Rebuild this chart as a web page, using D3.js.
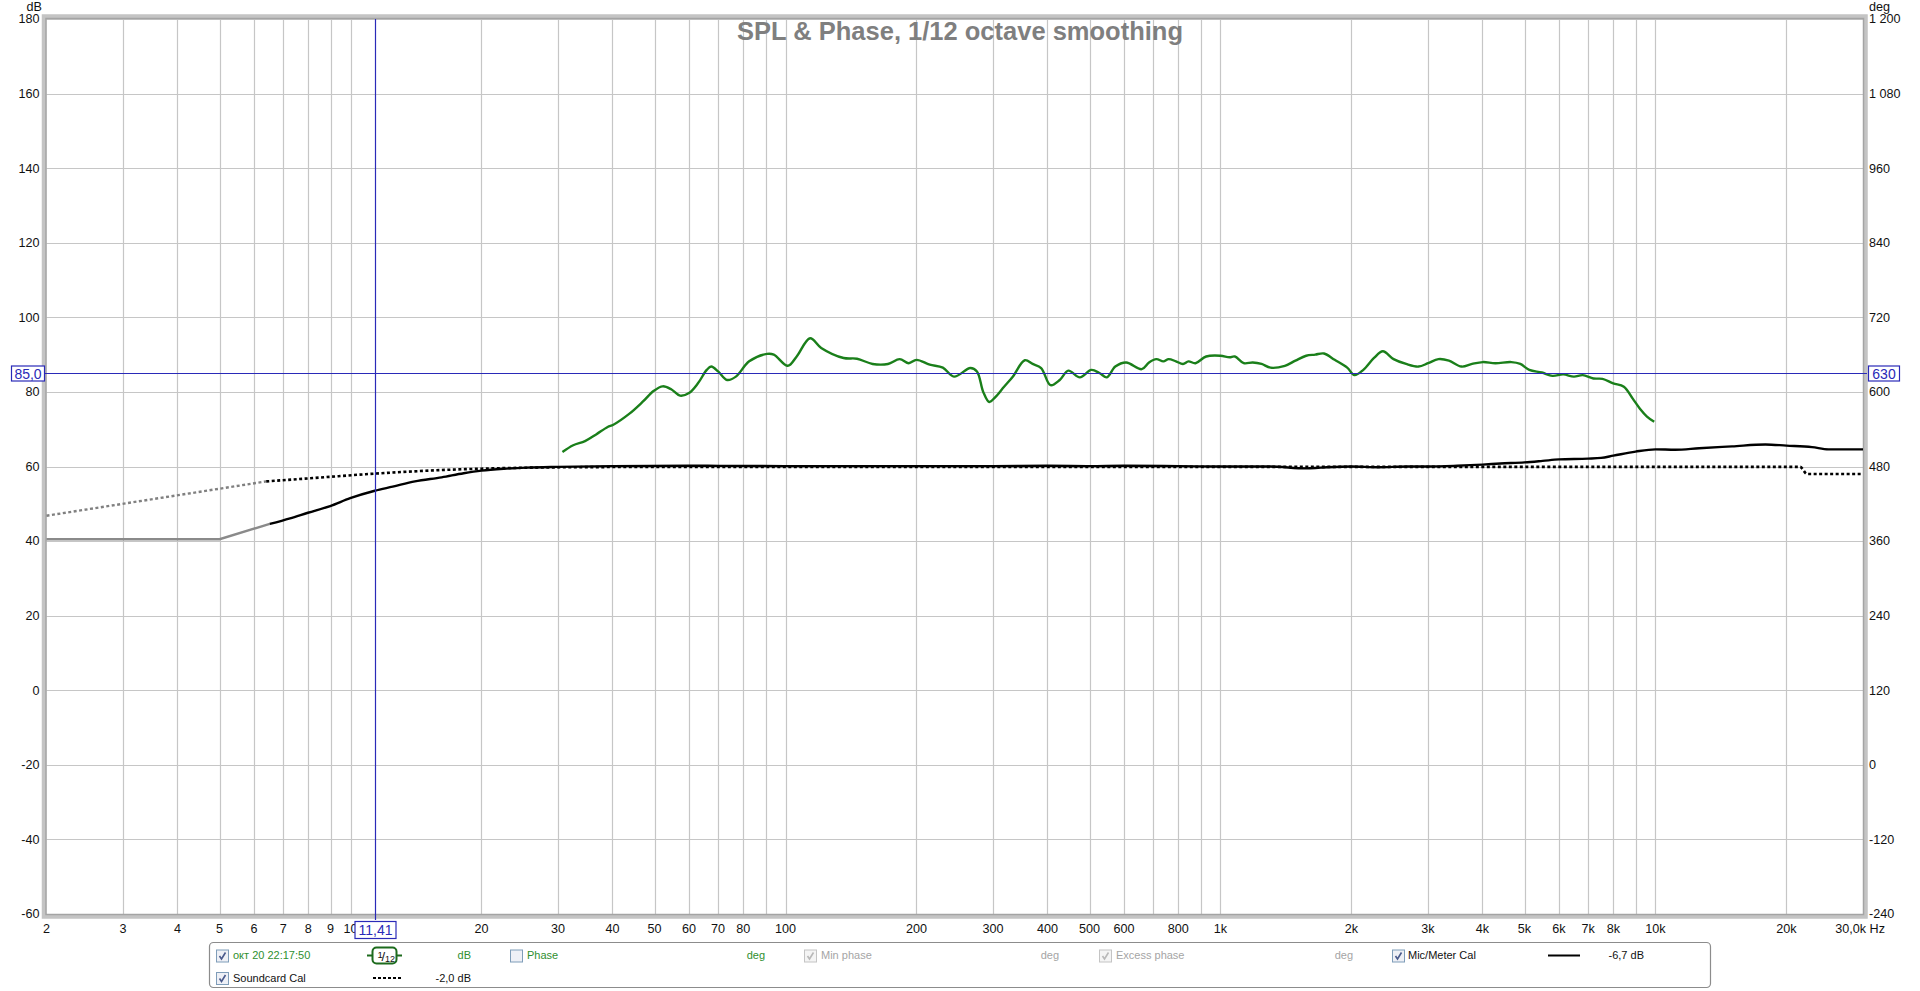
<!DOCTYPE html>
<html><head><meta charset="utf-8">
<script src="https://cdn.jsdelivr.net/npm/d3@7"></script>
<style>
body{margin:0;background:#fff;}
svg{display:block;}
text{font-family:"Liberation Sans",Arial,sans-serif;}
</style>
</head><body>
<svg id="c" width="1920" height="991"></svg>
<script>
// ---------- DATA ----------
const splFreq = [30.7,32.5,34.6,36.7,39.0,40.2,43.7,46.9,49.8,52.2,54.6,57.2,60,62.9,65.9,67.5,70,73.4,76.9,82.5,90.7,94.0,101.2,106.1,113.9,120.8,136,146,158.6,172,183,192,200,214.6,230,244,266,275.5,284.8,294,303.6,318,333,355,370,387,406.8,427,447,475,504.6,528,548,573,607,659,685,712,739,760,790,820,844,876,927,1000,1049,1079,1131,1186,1243,1303,1406,1487,1574,1651,1730,1830,1956,2032,2130,2254,2362,2500,2672,2853,3000,3170,3351,3582,3788,4009,4284,4663,4890,5128,5478,5798,6137,6494,6805,7202,7554,7995,8460,8866,9210,9560,9933];
const splDb   = [63.9,65.7,66.8,68.6,70.6,71.2,74.1,77.3,80.3,81.5,80.7,79.0,79.7,82.3,85.9,86.8,85.5,83.2,84.1,88.2,90.2,90.0,87.0,89.5,94.4,91.8,89.1,88.9,87.5,87.5,88.8,87.7,88.6,87.3,86.5,84.1,86.4,85.5,80.0,77.3,78.6,81.4,84.1,88.5,87.5,86.4,81.8,83.2,85.7,83.9,85.9,85.0,83.9,86.8,87.9,86.1,87.9,88.8,88.2,88.8,88.2,87.5,88.2,87.7,89.5,89.7,89.3,89.5,87.7,87.9,87.5,86.5,87.0,88.4,89.7,90.0,90.3,88.6,86.5,84.5,85.9,89.1,90.9,88.8,87.5,86.8,87.7,88.8,88.4,86.8,87.5,88.0,87.7,88.0,87.5,85.9,85.2,84.3,84.7,84.1,84.5,83.6,83.5,82.3,81.4,78.2,75.5,73.4,72.0];

const micExtFreq = [2,5,6.52];
const micExtDb   = [40.5,40.5,44.6];
const micFreq = [6.52,7.26,7.98,8.98,9.98,11.37,12.5,14.06,16.2,18.2,20,22.5,25.4,29.9,40,60,100,200,300,400,500,600,800,1000,1300,1574,1700,2000,2300,2700,3000,3500,4000,4400,5000,5500,6000,7000,7500,8000,9000,10000,11100,12600,15000,17900,20000,22900,25000,30000];
const micDb   = [44.6,46.1,47.6,49.4,51.5,53.5,54.6,56.0,57.1,58.2,58.9,59.4,59.7,59.9,60.1,60.2,60.1,60.1,60.1,60.2,60.1,60.2,60.1,60.0,60.0,59.5,59.7,60.0,59.8,60.0,60.0,60.2,60.5,60.8,61.1,61.5,61.9,62.1,62.3,62.9,64.0,64.6,64.5,64.9,65.4,65.9,65.6,65.2,64.6,64.6];

const scExtFreq = [2,6.4];
const scExtDb   = [46.8,56.0];
const scFreq = [6.4,8.2,11.4,16.6,26.3,40,100,1000,10000,21500,22300,30000];
const scDb   = [56.0,56.9,58.1,59.1,59.7,59.85,59.9,59.9,59.9,59.9,58.0,58.0];

const xTickValues = [2,3,4,5,6,7,8,9,10,20,30,40,50,60,70,80,100,200,300,400,500,600,800,1000,2000,3000,4000,5000,6000,7000,8000,10000,20000];
const xTickLabels = ["2","3","4","5","6","7","8","9","10","20","30","40","50","60","70","80","100","200","300","400","500","600","800","1k","2k","3k","4k","5k","6k","7k","8k","10k","20k"];
const yTicksDb  = [-60,-40,-20,0,20,40,60,80,100,120,140,160,180];
const yTicksDeg = [-240,-120,0,120,240,360,480,600,720,840,960,1080,1200];
const degLabels = ["-240","-120","0","120","240","360","480","600","720","840","960","1 080","1 200"];

const cursorFreq = 11.41, cursorDb = 85.0;
const cursorFreqLabel = "11,41", cursorDbLabel = "85,0", cursorDegLabel = "630";
const titleText = "SPL & Phase, 1/12 octave smoothing";

// ---------- LAYOUT ----------
const L = 46.5, R = 1863, T = 19, B = 914;
const svg = d3.select("#c");
const x = d3.scaleLog().domain([2, 30000]).range([L, R]);
const y = d3.scaleLinear().domain([-60, 180]).range([B, T]);
const yDeg = d3.scaleLinear().domain([-240, 1200]).range([B, T]);
const zip = (a, b) => a.map((v, i) => [v, b[i]]);

// grid
const gridF = [];
for (let n = 0; n <= 4; n++) for (let k = 1; k <= 9; k++) {
  const f = k * Math.pow(10, n);
  if (f > 2 && f < 30000) gridF.push(f);
}
const g = svg.append("g");
g.selectAll("line.vx").data(gridF).enter().append("line")
  .attr("x1", d => Math.round(x(d)) + 0.5).attr("x2", d => Math.round(x(d)) + 0.5)
  .attr("y1", T).attr("y2", B).attr("stroke", "#c6c6c6").attr("stroke-width", 1.2);
g.selectAll("line.hy").data(yTicksDb).enter().append("line")
  .attr("x1", L).attr("x2", R)
  .attr("y1", d => Math.round(y(d)) + 0.5).attr("y2", d => Math.round(y(d)) + 0.5)
  .attr("stroke", "#c6c6c6").attr("stroke-width", 1.2);

// title
svg.append("text").attr("x", 960).attr("y", 40).attr("text-anchor", "middle")
  .attr("font-size", 25.5).attr("font-weight", "bold").attr("fill", "#7f7f7f").text(titleText);

// frame
svg.append("rect").attr("x", L - 2.5).attr("y", T - 2.5).attr("width", R - L + 5).attr("height", B - T + 5)
  .attr("fill", "none").attr("stroke", "#c4c4c4").attr("stroke-width", 4.5);
svg.append("rect").attr("x", L - 0.5).attr("y", T - 0.5).attr("width", R - L + 1).attr("height", B - T + 1)
  .attr("fill", "none").attr("stroke", "#a4a4a4").attr("stroke-width", 1.5);

// axis labels
const fs = 12.6;
svg.append("g").selectAll("text").data(yTicksDb).enter().append("text")
  .attr("x", 39.5).attr("y", d => y(d)).attr("dy", "0.35em").attr("text-anchor", "end")
  .attr("font-size", fs).attr("fill", "#111").text(d => d);
svg.append("g").selectAll("text").data(yTicksDeg).enter().append("text")
  .attr("x", 1869).attr("y", d => yDeg(d)).attr("dy", "0.35em")
  .attr("font-size", fs).attr("fill", "#111").text((d, i) => degLabels[i]);
svg.append("text").attr("x", 42).attr("y", 11).attr("text-anchor", "end").attr("font-size", fs).attr("fill", "#111").text("dB");
svg.append("text").attr("x", 1869).attr("y", 11).attr("font-size", fs).attr("fill", "#111").text("deg");
svg.append("g").selectAll("text").data(xTickValues).enter().append("text")
  .attr("x", d => x(d)).attr("y", 929).attr("dy", "0.35em").attr("text-anchor", "middle")
  .attr("font-size", fs).attr("fill", "#111").text((d, i) => xTickLabels[i]);
svg.append("text").attr("x", 1885).attr("y", 929).attr("dy", "0.35em").attr("text-anchor", "end")
  .attr("font-size", fs).attr("fill", "#111").text("30,0k Hz");

// curves
const lineL = d3.line().x(d => x(d[0])).y(d => y(d[1]));
const lineM = d3.line().x(d => x(d[0])).y(d => y(d[1])).curve(d3.curveMonotoneX);
const lineC = d3.line().x(d => x(d[0])).y(d => y(d[1])).curve(d3.curveCatmullRom.alpha(0.5));
svg.append("path").attr("d", lineL(zip(scExtFreq, scExtDb))).attr("fill", "none")
  .attr("stroke", "#808080").attr("stroke-width", 2.4).attr("stroke-dasharray", "3,2.5");
svg.append("path").attr("d", lineM(zip(scFreq, scDb))).attr("fill", "none")
  .attr("stroke", "#000").attr("stroke-width", 2.6).attr("stroke-dasharray", "3,2.5");
svg.append("path").attr("d", lineL(zip(micExtFreq, micExtDb))).attr("fill", "none")
  .attr("stroke", "#8a8a8a").attr("stroke-width", 2.4);
svg.append("path").attr("d", lineM(zip(micFreq, micDb))).attr("fill", "none")
  .attr("stroke", "#000").attr("stroke-width", 2.4);
svg.append("path").attr("d", lineC(zip(splFreq, splDb))).attr("fill", "none")
  .attr("stroke", "#1a7f1a").attr("stroke-width", 2.4).attr("stroke-linejoin", "round");

// cursor
const cBlue = "#2a2ab8";
const cx = Math.round(x(cursorFreq)) + 0.5, cy = Math.round(y(cursorDb)) + 0.5;
svg.append("line").attr("x1", cx).attr("x2", cx).attr("y1", T).attr("y2", B + 6).attr("stroke", cBlue).attr("stroke-width", 1.2);
svg.append("line").attr("x1", L - 2).attr("x2", R + 4).attr("y1", cy).attr("y2", cy).attr("stroke", cBlue).attr("stroke-width", 1.2);
function cursorBox(x0, y0, w, h, txt) {
  svg.append("rect").attr("x", x0 + 0.5).attr("y", y0 + 0.5).attr("width", w).attr("height", h)
    .attr("fill", "#fff").attr("stroke", cBlue).attr("stroke-width", 1.2);
  svg.append("text").attr("x", x0 + w / 2 + 0.5).attr("y", y0 + h / 2 + 0.5).attr("dy", "0.36em")
    .attr("text-anchor", "middle").attr("font-size", 14).attr("fill", cBlue).text(txt);
}
cursorBox(cx - 21, 921, 41, 17, cursorFreqLabel);
cursorBox(11, cy - 8, 33, 15, cursorDbLabel);
cursorBox(1868, cy - 8, 31, 15, cursorDegLabel);

// legend
const green = "#2f8f2f", grey = "#a5a5a5";
svg.append("rect").attr("x", 209.5).attr("y", 942.5).attr("width", 1501).attr("height", 45).attr("rx", 4)
  .attr("fill", "#fff").attr("stroke", "#8c8c8c").attr("stroke-width", 1.2);
function checkbox(x0, yc, checked, disabled) {
  const y0 = yc - 6;
  svg.append("rect").attr("x", x0 + 0.5).attr("y", y0 + 0.5).attr("width", 12).attr("height", 12)
    .attr("fill", disabled ? "#f4f4f4" : "#eef0f6").attr("stroke", disabled ? "#c4c4c4" : "#7f9db9");
  if (checked) svg.append("path").attr("d", `M${x0+3.5},${y0+6.5} L${x0+5.5},${y0+9.5} L${x0+9.5},${y0+3}`)
    .attr("fill", "none").attr("stroke", disabled ? "#b8b8b8" : "#4a5a8c").attr("stroke-width", 1.6);
}
function ltext(x0, yc, txt, col, anchor) {
  svg.append("text").attr("x", x0).attr("y", yc).attr("dy", "0.35em").attr("font-size", 11)
    .attr("text-anchor", anchor || "start").attr("fill", col).text(txt);
}
const r1 = 955.5, r2 = 978;
checkbox(216, r1, true, false); ltext(233, r1, "окт 20 22:17:50", green);
// smoothing badge
svg.append("line").attr("x1", 367).attr("x2", 402).attr("y1", r1).attr("y2", r1).attr("stroke", "#1d6b1d").attr("stroke-width", 2);
svg.append("rect").attr("x", 372.5).attr("y", r1 - 8).attr("width", 24).attr("height", 16).attr("rx", 4)
  .attr("fill", "#fff").attr("stroke", "#1d6b1d").attr("stroke-width", 2);
svg.append("text").attr("x", 377.5).attr("y", r1 + 2).attr("font-size", 9.5).attr("fill", "#111").text("1");
svg.append("text").attr("x", 381.5).attr("y", r1 + 5).attr("font-size", 13).attr("fill", "#111").text("/");
svg.append("text").attr("x", 385).attr("y", r1 + 6).attr("font-size", 9).attr("fill", "#111").text("12");
ltext(471, r1, "dB", green, "end");
checkbox(510, r1, false, false); ltext(527, r1, "Phase", green);
ltext(765, r1, "deg", green, "end");
checkbox(804, r1, true, true); ltext(821, r1, "Min phase", grey);
ltext(1059, r1, "deg", grey, "end");
checkbox(1099, r1, true, true); ltext(1116, r1, "Excess phase", grey);
ltext(1353, r1, "deg", grey, "end");
checkbox(1392, r1, true, false); ltext(1408, r1, "Mic/Meter Cal", "#111");
svg.append("line").attr("x1", 1548).attr("x2", 1580).attr("y1", r1).attr("y2", r1).attr("stroke", "#000").attr("stroke-width", 2);
ltext(1644, r1, "-6,7 dB", "#111", "end");
checkbox(216, r2, true, false); ltext(233, r2, "Soundcard Cal", "#111");
svg.append("line").attr("x1", 373).attr("x2", 401).attr("y1", r2).attr("y2", r2).attr("stroke", "#000")
  .attr("stroke-width", 2).attr("stroke-dasharray", "3,2");
ltext(471, r2, "-2,0 dB", "#111", "end");
</script>
</body></html>
